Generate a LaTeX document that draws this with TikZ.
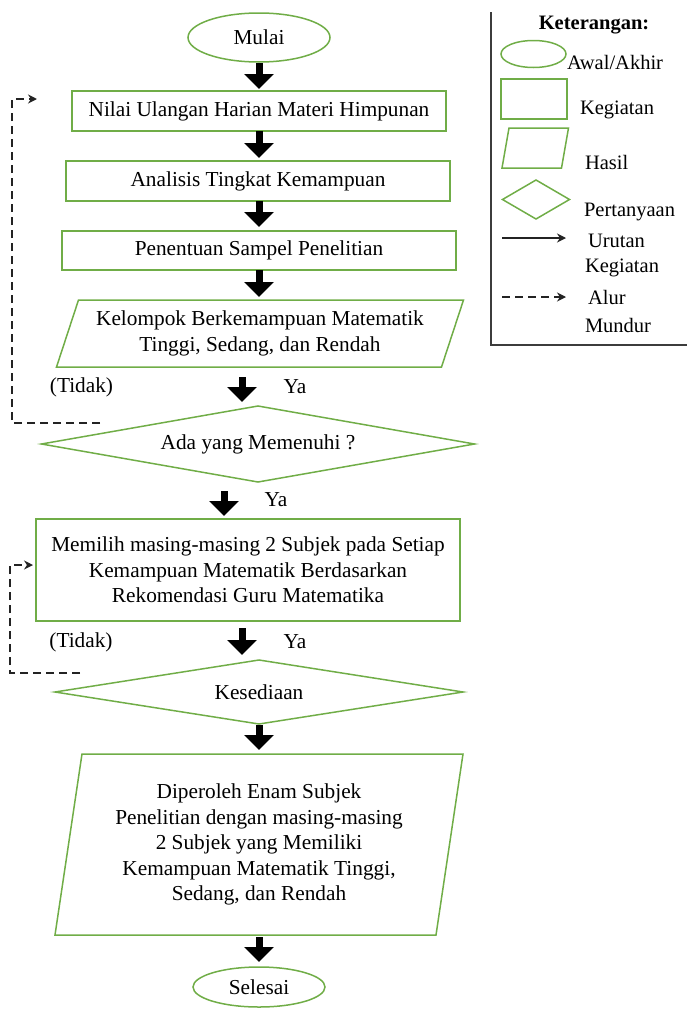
\documentclass[tikz,border=0pt]{standalone}
\usepackage{fontspec}
\setmainfont{Liberation Serif}
\usetikzlibrary{shapes.geometric,arrows.meta,calc}
\definecolor{flgreen}{RGB}{112,173,71}
\definecolor{darkline}{RGB}{35,35,35}
\definecolor{legborder}{RGB}{60,60,60}
\begin{document}
\begin{tikzpicture}[x=1pt,y=-1pt,
  every node/.style={font=\fontsize{21.3}{25.5}\selectfont, inner sep=0pt, outer sep=0pt},
  legtext/.style={font=\fontsize{20.5}{24}\selectfont},
  term/.style={ellipse, draw=flgreen, line width=1.5pt},
  act/.style={rectangle, draw=flgreen, line width=1.5pt, align=center},
  io/.style={rectangle, align=center},
  paraline/.style={draw=flgreen, line width=1.5pt},
  quest/.style={diamond, draw=flgreen, line width=1.5pt, aspect=5.5},
  blockarrow/.style={line width=7pt, -{Triangle[width=29pt,length=15pt]}},
  backarrow/.style={darkline, line width=2pt, dash pattern=on 8pt off 5pt, -{Stealth[width=9pt,length=9pt]}},
  seqarrow/.style={darkline, line width=2pt, -{Stealth[width=9pt,length=9pt]}},
  lbl/.style={anchor=west, legtext},
]
\useasboundingbox (0,0) rectangle (687,1009);

% ---------- main flow ----------
\node[term, minimum width=142pt, minimum height=49pt] (mulai) at (259,37.5) {Mulai};
\node[act, minimum width=374pt, minimum height=40pt] (b1) at (259,111) {Nilai Ulangan Harian Materi Himpunan};
\node[act, minimum width=384pt, minimum height=40pt] (b2) at (258,181) {Analisis Tingkat Kemampuan};
\node[act, minimum width=394pt, minimum height=39pt] (b3) at (259,250.5) {Penentuan Sampel Penelitian};
\node[io, minimum width=385pt, minimum height=67pt] (p1) at (260,333.5) {Kelompok Berkemampuan Matematik\\Tinggi, Sedang, dan Rendah};
\draw[paraline] ($(p1.north west)+(11,0)$) -- ($(p1.north east)+(11,0)$) -- ($(p1.south east)+(-11,0)$) -- ($(p1.south west)+(-11,0)$) -- cycle;
\node[quest, minimum width=433pt, minimum height=76pt] (d1) at (258,444) {Ada yang Memenuhi ?};
\node[act, minimum width=424pt, minimum height=102pt] (m) at (248,570) {Memilih masing-masing 2 Subjek pada Setiap\\Kemampuan Matematik Berdasarkan\\Rekomendasi Guru Matematika};
\node[quest, minimum width=408pt, minimum height=64pt] (d2) at (259,692) {Kesediaan};
\node[io, minimum width=381pt, minimum height=181pt] (p2) at (259,844.5) {Diperoleh Enam Subjek\\Penelitian dengan masing-masing\\2 Subjek yang Memiliki\\Kemampuan Matematik Tinggi,\\Sedang, dan Rendah};
\draw[paraline] ($(p2.north west)+(13.5,0)$) -- ($(p2.north east)+(13.5,0)$) -- ($(p2.south east)+(-13.5,0)$) -- ($(p2.south west)+(-13.5,0)$) -- cycle;
\node[term, minimum width=132pt, minimum height=40pt] (selesai) at (259,987) {Selesai};

% ---------- block arrows ----------
\draw[blockarrow, shorten <=1pt, shorten >=2pt] (mulai.south) -- (mulai.south |- b1.north);
\draw[blockarrow, shorten >=3pt] (b1.south) -- (b1.south |- b2.north);
\draw[blockarrow, shorten >=4pt] (b2.south -| b3.north) -- (b3.north);
\draw[blockarrow, shorten >=3pt] (b3.south) -- (b3.south |- p1.north);
\draw[blockarrow, shorten <=10pt, shorten >=4pt] ([xshift=-18pt]p1.south) -- ([xshift=-16pt]d1.north);
\draw[blockarrow, shorten <=9pt, shorten >=3pt] ([xshift=-34pt]d1.south) -- ([xshift=-24pt]m.north);
\draw[blockarrow, shorten <=7pt, shorten >=5pt] ([xshift=-6pt]m.south) -- ([xshift=-17pt]d2.north);
\draw[blockarrow, shorten <=1pt, shorten >=4pt] (d2.south) -- (p2.north);
\draw[blockarrow, shorten <=2pt, shorten >=5pt] (p2.south) -- (selesai.north);

% ---------- labels ----------
\node (tidak1) at (81.5,387) {(Tidak)};
\node (ya1) at (295,387) {Ya};
\node (ya2) at (276,500) {Ya};
\node (tidak2) at (81,642) {(Tidak)};
\node (ya3) at (295,642) {Ya};

% ---------- back (dashed) arrows ----------
\coordinate (t1) at (100,423);
\draw[backarrow, shorten >=35pt] (t1) -| ([xshift=-60pt,yshift=12pt]b1.west) -- ([yshift=12pt]b1.west);
\coordinate (t2) at (80,673);
\draw[backarrow, shorten >=3pt] (t2) -| ([xshift=-26pt,yshift=5pt]m.west) -- ([yshift=5pt]m.west);

% ---------- legend ----------
\draw[legborder, line width=2pt] (491,12) -- (491,345) -- (690,345);
\node[font=\fontsize{20.5}{24}\selectfont\bfseries] (ket) at (594,25) {Keterangan:};
\node[term, minimum width=65pt, minimum height=27pt] (lterm) at (533.5,54) {};
\node[lbl] (lawal) at (567,62) {Awal/Akhir};
\node[act, minimum width=66pt, minimum height=40pt] (lact) at (534,99) {};
\node[lbl] (lkeg) at (580,110) {Kegiatan};
\node[io, minimum width=59.5pt, minimum height=40pt] (lio) at (535.25,148) {};
\draw[paraline] ($(lio.north west)+(3.5,0)$) -- ($(lio.north east)+(3.5,0)$) -- ($(lio.south east)+(-3.5,0)$) -- ($(lio.south west)+(-3.5,0)$) -- cycle;
\node[lbl] (lhasil) at (585,162) {Hasil};
\node[diamond, draw=flgreen, line width=1.5pt, minimum width=67pt, minimum height=39pt, aspect=1.7] (lq) at (536,199.5) {};
\node[lbl] (lpert) at (584,212) {Pertanyaan};
\coordinate (s1) at (502,238);
\coordinate (s2) at (566,238);
\draw[seqarrow] (s1) -- (s2);
\node[lbl] (luru) at (588,241) {Urutan};
\node[lbl] (lkeg2) at (585,268) {Kegiatan};
\coordinate (r1) at (502,297);
\coordinate (r2) at (566,297);
\draw[backarrow] (r1) -- (r2);
\node[lbl] (lalur) at (588,297) {Alur};
\node[lbl] (lmun) at (585,325) {Mundur};
\end{tikzpicture}
\end{document}
